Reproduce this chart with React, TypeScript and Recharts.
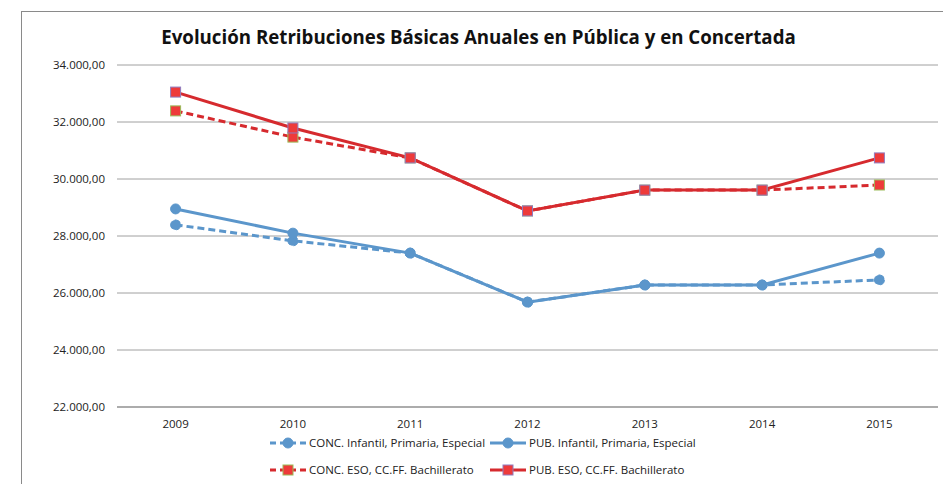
import React from 'react';
import { LineChart, Line, XAxis, YAxis, CartesianGrid } from 'recharts';

const years = ['2009', '2010', '2011', '2012', '2013', '2014', '2015'];
const concInfantil = [28390, 27830, 27400, 25680, 26280, 26280, 26460];
const pubInfantil = [28950, 28100, 27400, 25680, 26280, 26280, 27400];
const concEso = [32390, 31470, 30740, 28880, 29610, 29610, 29790];
const pubEso = [33050, 31790, 30740, 28880, 29610, 29610, 30740];
const yTicks = [22000, 24000, 26000, 28000, 30000, 32000, 34000];

const seriesNames = [
  'CONC. Infantil, Primaria, Especial',
  'PUB. Infantil, Primaria, Especial',
  'CONC. ESO, CC.FF. Bachillerato',
  'PUB. ESO, CC.FF. Bachillerato',
];

const data = years.map((y, i) => ({
  year: y,
  concInf: concInfantil[i],
  pubInf: pubInfantil[i],
  concEso: concEso[i],
  pubEso: pubEso[i],
}));

const BLUE = '#5B96CB';
const RED = '#D62A2E';
const SQ_FILL = '#EE3A3A';
const PUB_BORDER = '#8F7DC0';
const CONC_BORDER = '#9BBB59';
const FONT = '"Open Sans", sans-serif';

const fmt = (v: number) => {
  const s = Math.round(v).toString();
  const withDots = s.replace(/\B(?=(\d{3})+(?!\d))/g, '.');
  return withDots + ',00';
};

const makeSquare = (border: string) => (props: any) => {
  const { cx, cy, index } = props;
  if (cx == null || cy == null) return <g key={index} />;
  return (
    <rect
      key={index}
      x={cx - 5}
      y={cy - 5}
      width={10}
      height={10}
      fill={SQ_FILL}
      stroke={border}
      strokeWidth={1}
    />
  );
};

const legendItems = [
  { name: seriesNames[0], color: BLUE, dash: '6 4', marker: 'circle', border: BLUE },
  { name: seriesNames[1], color: BLUE, dash: undefined, marker: 'circle', border: BLUE },
  { name: seriesNames[2], color: RED, dash: '6 4', marker: 'square', border: CONC_BORDER },
  { name: seriesNames[3], color: RED, dash: undefined, marker: 'square', border: PUB_BORDER },
];

const LegendBlock = () => {
  const cols = [270, 490];
  const rows = [443, 470];
  return (
    <svg width={943} height={484} style={{ position: 'absolute', left: 0, top: 0, pointerEvents: 'none' }}>
      {legendItems.map((it, i) => {
        const x = cols[i % 2];
        const y = rows[Math.floor(i / 2)];
        return (
          <g key={i}>
            <line x1={x} y1={y} x2={x + 36} y2={y} stroke={it.color} strokeWidth={3} strokeDasharray={it.dash} />
            {it.marker === 'circle' ? (
              <circle cx={x + 18} cy={y} r={5} fill={BLUE} stroke={BLUE} />
            ) : (
              <rect x={x + 13} y={y - 5} width={10} height={10} fill={SQ_FILL} stroke={it.border} />
            )}
            <text x={x + 39} y={y} dy="0.35em" fontFamily={FONT} fontSize={11.5} fill="#222">
              {it.name}
            </text>
          </g>
        );
      })}
    </svg>
  );
};

export default function App() {
  return (
    <div style={{ position: 'absolute', left: 0, top: 0, width: 943, height: 484, background: '#fff' }}>
      <div
        style={{
          position: 'absolute',
          left: 21,
          top: 11,
          width: 922,
          height: 473,
          borderLeft: '1px solid #8a8a8a',
          borderTop: '1px solid #8a8a8a',
        }}
      />
      <div
        style={{
          position: 'absolute',
          left: 0,
          top: 24,
          width: 957,
          textAlign: 'center',
          fontFamily: FONT,
          fontWeight: 700,
          fontSize: 18.7,
          color: '#111',
          whiteSpace: 'nowrap',
        }}
      >
        Evolución Retribuciones Básicas Anuales en Pública y en Concertada
      </div>
      <LineChart
        width={943}
        height={484}
        data={data}
        margin={{ top: 65, right: 5, bottom: 47, left: 0 }}
        style={{ position: 'absolute', left: 0, top: 0 }}
      >
        <CartesianGrid vertical={false} stroke="#a0a0a0" strokeWidth={1} />
        <XAxis
          dataKey="year"
          height={30}
          padding={{ left: 58.6, right: 58.6 }}
          tickLine={false}
          axisLine={{ stroke: '#a0a0a0', strokeWidth: 1.5 }}
          tickSize={0}
          tickMargin={13}
          tick={{ fontFamily: FONT, fontSize: 11.5, fill: '#222' }}
        />
        <YAxis
          width={117}
          domain={[22000, 34000]}
          ticks={yTicks}
          tickFormatter={fmt}
          axisLine={false}
          tickLine={false}
          tickSize={0}
          tickMargin={12}
          tick={{ fontFamily: FONT, fontSize: 11.5, fill: '#222' }}
        />
        <Line
          name={seriesNames[0]}
          dataKey="concInf"
          stroke={BLUE}
          strokeWidth={3}
          strokeDasharray="7 4"
          dot={{ r: 5, fill: BLUE, stroke: BLUE, strokeWidth: 1 }}
          isAnimationActive={false}
        />
        <Line
          name={seriesNames[1]}
          dataKey="pubInf"
          stroke={BLUE}
          strokeWidth={3}
          dot={{ r: 5, fill: BLUE, stroke: BLUE, strokeWidth: 1 }}
          isAnimationActive={false}
        />
        <Line
          name={seriesNames[2]}
          dataKey="concEso"
          stroke={RED}
          strokeWidth={3}
          strokeDasharray="7 4"
          dot={makeSquare(CONC_BORDER)}
          isAnimationActive={false}
        />
        <Line
          name={seriesNames[3]}
          dataKey="pubEso"
          stroke={RED}
          strokeWidth={3}
          dot={makeSquare(PUB_BORDER)}
          isAnimationActive={false}
        />
      </LineChart>
      <LegendBlock />
    </div>
  );
}
